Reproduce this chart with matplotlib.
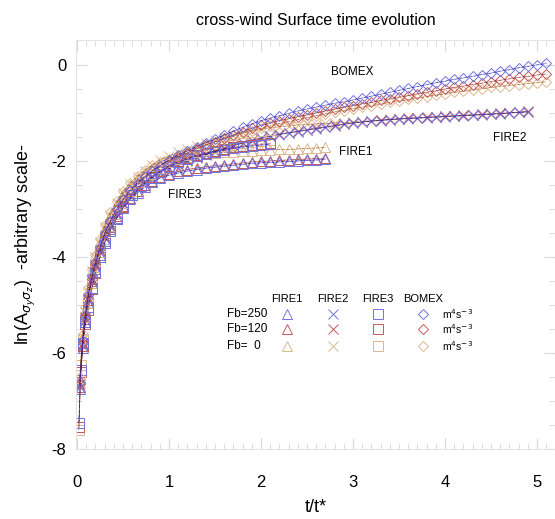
import numpy as np
import matplotlib
matplotlib.use("Agg")
from matplotlib import pyplot as plt

plt.rcParams["font.family"] = ["Liberation Sans", "DejaVu Sans"]
plt.rcParams["axes.unicode_minus"] = False

# --- data (t/t*, ln A) ---
fb_labels = ["Fb=250", "Fb=120", "Fb=  0"]

t_fire1 = [0.03, 0.06, 0.09, 0.12, 0.16, 0.2, 0.25, 0.3, 0.36, 0.43, 0.5, 0.58, 0.66, 0.74, 0.82, 0.9,
           1.0, 1.1, 1.2, 1.3, 1.4, 1.5, 1.6, 1.7, 1.8, 1.9, 2.0, 2.1, 2.2, 2.3, 2.4, 2.5, 2.6, 2.7]
fire1_250 = [-6.75, -5.9, -5.35, -4.95, -4.55, -4.25, -3.95, -3.67, -3.42, -3.18, -2.97, -2.8, -2.66, -2.54, -2.44, -2.36,
             -2.3, -2.25, -2.21, -2.18, -2.15, -2.13, -2.11, -2.09, -2.07, -2.05, -2.04, -2.03, -2.02, -2.01, -2.0, -1.99, -1.98, -1.97]
fire1_120 = [-6.7, -5.85, -5.3, -4.9, -4.5, -4.2, -3.9, -3.63, -3.38, -3.15, -2.94, -2.77, -2.63, -2.51, -2.41, -2.33,
             -2.27, -2.22, -2.18, -2.15, -2.12, -2.1, -2.08, -2.06, -2.04, -2.02, -2.01, -2.0, -1.99, -1.98, -1.97, -1.96, -1.95, -1.94]
fire1_0 = [-6.55, -5.65, -5.1, -4.68, -4.28, -3.97, -3.66, -3.38, -3.12, -2.89, -2.68, -2.5, -2.36, -2.24, -2.14, -2.06,
           -2.0, -1.95, -1.91, -1.88, -1.86, -1.84, -1.82, -1.81, -1.8, -1.79, -1.78, -1.77, -1.76, -1.76, -1.75, -1.74, -1.73, -1.72]

t_fire2 = [0.03, 0.06, 0.09, 0.12, 0.16, 0.2, 0.25, 0.3, 0.36, 0.43, 0.5, 0.58, 0.66, 0.74, 0.82, 0.9,
           1.0, 1.1, 1.2, 1.3, 1.4, 1.5, 1.6, 1.7, 1.8, 1.9, 2.0, 2.1, 2.2, 2.3, 2.4, 2.5, 2.6, 2.7, 2.8, 2.9,
           3.0, 3.1, 3.2, 3.3, 3.4, 3.5, 3.6, 3.7, 3.8, 3.9, 4.0, 4.1, 4.2, 4.3, 4.4, 4.5, 4.6, 4.7, 4.8, 4.9]
fire2_250 = [-6.7, -5.85, -5.3, -4.9, -4.5, -4.2, -3.9, -3.6, -3.35, -3.1, -2.9, -2.72, -2.57, -2.45, -2.34, -2.24,
             -2.16, -2.08, -2.01, -1.94, -1.87, -1.81, -1.75, -1.69, -1.63, -1.58, -1.53, -1.49, -1.45, -1.42, -1.39, -1.36, -1.33, -1.3, -1.27, -1.24,
             -1.21, -1.19, -1.17, -1.16, -1.14, -1.13, -1.12, -1.11, -1.1, -1.09, -1.08, -1.07, -1.06, -1.05, -1.04, -1.03, -1.02, -1.0, -0.99, -0.98]
fire2_120 = [-6.65, -5.8, -5.25, -4.85, -4.46, -4.16, -3.86, -3.57, -3.32, -3.08, -2.88, -2.7, -2.55, -2.43, -2.32, -2.22,
             -2.14, -2.06, -1.99, -1.92, -1.85, -1.79, -1.73, -1.67, -1.62, -1.57, -1.52, -1.48, -1.44, -1.41, -1.38, -1.35, -1.32, -1.29, -1.26, -1.23,
             -1.21, -1.19, -1.17, -1.15, -1.14, -1.12, -1.11, -1.1, -1.09, -1.08, -1.07, -1.06, -1.05, -1.04, -1.03, -1.02, -1.01, -1.0, -0.98, -0.97]
fire2_0 = [-6.6, -5.7, -5.15, -4.72, -4.3, -4.0, -3.68, -3.38, -3.12, -2.88, -2.66, -2.48, -2.33, -2.2, -2.08, -1.98,
           -1.9, -1.82, -1.75, -1.68, -1.62, -1.56, -1.51, -1.46, -1.41, -1.37, -1.34, -1.31, -1.29, -1.27, -1.25, -1.24, -1.23, -1.22, -1.21, -1.2,
           -1.19, -1.18, -1.16, -1.15, -1.13, -1.12, -1.11, -1.1, -1.09, -1.08, -1.07, -1.06, -1.05, -1.04, -1.03, -1.02, -1.01, -1.0, -0.99, -0.98]

t_fire3 = [0.02, 0.04, 0.06, 0.09, 0.12, 0.16, 0.2, 0.25, 0.3, 0.36, 0.43, 0.5, 0.6, 0.7,
           0.8, 0.9, 1.0, 1.1, 1.2, 1.3, 1.4, 1.5, 1.6, 1.7, 1.8, 1.9, 2.0, 2.1]
fire3_250 = [-7.45, -6.35, -5.8, -5.35, -5.05, -4.65, -4.32, -4.0, -3.72, -3.45, -3.2, -2.98, -2.72, -2.52,
             -2.36, -2.23, -2.12, -2.03, -1.96, -1.9, -1.85, -1.81, -1.77, -1.74, -1.71, -1.69, -1.67, -1.65]
fire3_120 = [-7.55, -6.4, -5.85, -5.4, -5.1, -4.67, -4.34, -4.0, -3.72, -3.45, -3.2, -2.97, -2.71, -2.5,
             -2.34, -2.21, -2.1, -2.01, -1.94, -1.88, -1.83, -1.79, -1.75, -1.72, -1.69, -1.67, -1.65, -1.63]
fire3_0 = [-7.6, -6.25, -5.7, -5.25, -4.95, -4.55, -4.22, -3.9, -3.62, -3.36, -3.1, -2.88, -2.63, -2.43,
           -2.27, -2.14, -2.03, -1.95, -1.88, -1.82, -1.77, -1.73, -1.69, -1.66, -1.63, -1.61, -1.59, -1.57]

t_bomex = [0.03, 0.06, 0.09, 0.12, 0.16, 0.2, 0.25, 0.3, 0.36, 0.43, 0.5, 0.58, 0.66, 0.74, 0.82, 0.9,
           1.0, 1.1, 1.2, 1.3, 1.4, 1.5, 1.6, 1.7, 1.8, 1.9, 2.0, 2.1, 2.2, 2.3, 2.4, 2.5, 2.6, 2.7, 2.8, 2.9,
           3.0, 3.1, 3.2, 3.3, 3.4, 3.5, 3.6, 3.7, 3.8, 3.9, 4.0, 4.1, 4.2, 4.3, 4.4, 4.5, 4.6, 4.7, 4.8, 4.9,
           5.0, 5.1]
bomex_250 = [-6.6, -5.75, -5.2, -4.8, -4.4, -4.1, -3.8, -3.5, -3.25, -3.0, -2.8, -2.6, -2.45, -2.32, -2.2, -2.1,
             -1.98, -1.88, -1.79, -1.7, -1.62, -1.54, -1.46, -1.38, -1.3, -1.23, -1.16, -1.11, -1.06, -1.01, -0.96, -0.92, -0.88, -0.84, -0.8, -0.77,
             -0.73, -0.69, -0.65, -0.61, -0.57, -0.53, -0.49, -0.45, -0.41, -0.37, -0.34, -0.3, -0.27, -0.24, -0.2, -0.17, -0.13, -0.1, -0.06, -0.03,
             0.0, 0.03]
bomex_120 = [-6.65, -5.8, -5.25, -4.85, -4.45, -4.15, -3.83, -3.53, -3.27, -3.03, -2.82, -2.63, -2.48, -2.34, -2.22, -2.1,
             -2.0, -1.91, -1.83, -1.75, -1.67, -1.6, -1.53, -1.46, -1.39, -1.32, -1.26, -1.21, -1.16, -1.12, -1.08, -1.04, -1.0, -0.96, -0.92, -0.88,
             -0.85, -0.81, -0.78, -0.74, -0.71, -0.67, -0.64, -0.6, -0.57, -0.54, -0.5, -0.47, -0.44, -0.41, -0.38, -0.35, -0.32, -0.29, -0.26, -0.24,
             -0.21, -0.19]
bomex_0 = [-6.5, -5.6, -5.05, -4.65, -4.25, -3.95, -3.62, -3.33, -3.07, -2.84, -2.63, -2.45, -2.31, -2.19, -2.09, -2.02,
           -1.95, -1.87, -1.8, -1.73, -1.66, -1.6, -1.54, -1.48, -1.42, -1.37, -1.32, -1.27, -1.22, -1.18, -1.14, -1.1, -1.06, -1.02, -0.98, -0.95,
           -0.91, -0.88, -0.85, -0.81, -0.78, -0.75, -0.72, -0.69, -0.66, -0.63, -0.6, -0.57, -0.55, -0.52, -0.5, -0.47, -0.45, -0.43, -0.41, -0.39,
           -0.37, -0.35]

cases = [
    ("FIRE1", "^", t_fire1, [fire1_250, fire1_120, fire1_0]),
    ("FIRE2", "x", t_fire2, [fire2_250, fire2_120, fire2_0]),
    ("FIRE3", "s", t_fire3, [fire3_250, fire3_120, fire3_0]),
    ("BOMEX", "D", t_bomex, [bomex_250, bomex_120, bomex_0]),
]

marker_colors = ["#7272e2", "#c45a5a", "#dab790"]
line_colors = ["#2a2aff", "#d42020", "#ff9a2e"]
marker_sizes = {"^": 6.5, "x": 6.5, "s": 7, "D": 5.5}


def plot_case(ax, t, ys, marker):
    for y, mc, lc in zip(ys[::-1], marker_colors[::-1], line_colors[::-1]):
        ax.plot(t, y, linestyle="None", marker=marker, ms=marker_sizes[marker],
                mfc="none", mec=mc, mew=0.7)
        ax.plot(t, y, color=lc, lw=0.5, alpha=0.6)
        ax.plot(t, y, color="black", lw=0.5, ls=(0, (4, 3)), alpha=0.45)


fig = plt.figure(figsize=(5.55, 5.19), dpi=100)
ax = fig.add_axes([0.137, 0.135, 0.863, 0.788])

for name, marker, t, ys in cases:
    plot_case(ax, t, ys, marker)

ax.set_xlim(-0.011, 5.196)
ax.set_ylim(-8, 0.52)
ax.set_xticks([0, 1, 2, 3, 4, 5])
ax.set_xticks(np.arange(0, 5.2, 0.1), minor=True)
ax.set_yticks([-8, -6, -4, -2, 0])
ax.set_yticks(np.arange(-8, 0.5, 0.5), minor=True)
ax.tick_params(which="both", direction="in", color="#d8d8d8", top=True, right=True,
               labelsize=12)
ax.tick_params(which="major", length=8)
ax.tick_params(which="minor", length=4)
ax.tick_params(axis="x", pad=19)
ax.tick_params(axis="y", pad=7)
for s in ax.spines.values():
    s.set_color("#e4e4e4")

ax.set_title("cross-wind Surface time evolution", fontsize=11.5, pad=11)
ax.set_xlabel("t/t*", fontsize=13, labelpad=6)
ax.set_ylabel(r"ln(A$_{\sigma_y\sigma_z}$)  -arbitrary scale-", fontsize=13, labelpad=10)

# case labels on the curves
ax.text(2.99, -0.15, "BOMEX", fontsize=8.5, ha="center", va="center")
ax.text(3.03, -1.81, "FIRE1", fontsize=8.5, ha="center", va="center")
ax.text(4.70, -1.52, "FIRE2", fontsize=8.5, ha="center", va="center")
ax.text(1.17, -2.71, "FIRE3", fontsize=8.5, ha="center", va="center")

# hand-made legend table
col_x = [2.28, 2.78, 3.27, 3.76]
row_y = [-5.19, -5.5, -5.85]
for (name, marker, t, ys), cx in zip(cases, col_x):
    ax.text(cx, -4.875, name, fontsize=8, ha="center", va="center")
    for ry, mc in zip(row_y, marker_colors):
        ax.plot(cx, ry, linestyle="None", marker=marker, ms=marker_sizes[marker],
                mfc="none", mec=mc, mew=0.7)
for ry, lab in zip(row_y, fb_labels):
    ax.text(1.63, ry, lab, fontsize=8.5, ha="left", va="center")
    ax.text(3.97, ry, r"m$^4$s$^{-3}$", fontsize=7.5, ha="left", va="center")

fig.savefig("out.png", dpi=100)
